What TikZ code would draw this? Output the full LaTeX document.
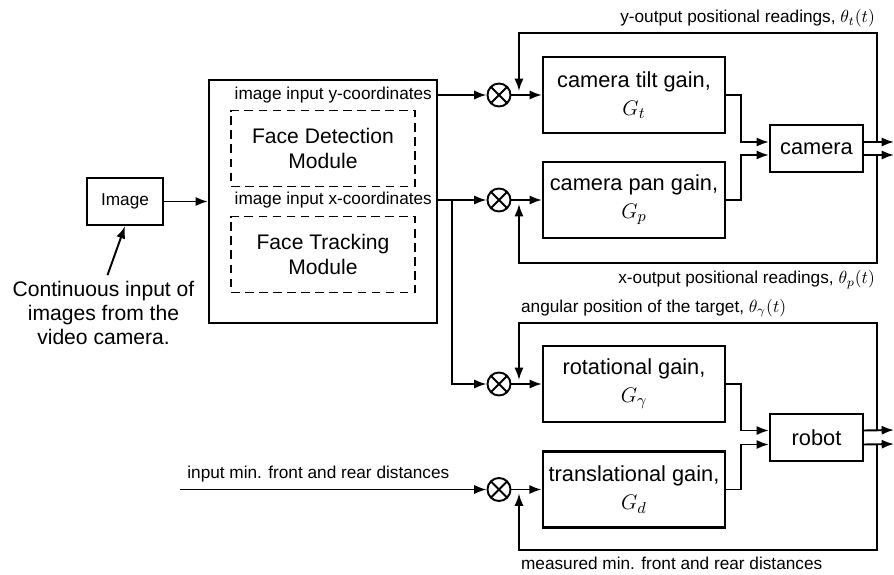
\documentclass[tikz,border=0pt]{standalone}
\usepackage{fontspec}
\setmainfont{Liberation Sans}
\usetikzlibrary{arrows.meta,positioning}

\begin{document}
\begin{tikzpicture}[x=0.02cm,y=-0.02cm,
  blk/.style={rectangle,draw,line width=1.3pt,minimum width=3.64cm,minimum height=1.52cm,
              font=\fontsize{12.4}{16}\selectfont,align=center},
  smallblk/.style={rectangle,draw,line width=1.3pt,minimum width=1.86cm,minimum height=0.94cm,
              font=\fontsize{12.4}{15}\selectfont},
  dashblk/.style={rectangle,draw,dash pattern=on 5pt off 3pt,line width=1.1pt,
              minimum width=3.68cm,minimum height=1.52cm,font=\fontsize{12}{14}\selectfont,align=center},
  sumnode/.style={circle,draw,line width=1.1pt,minimum size=0.46cm,inner sep=0pt,
              path picture={\draw[line width=1.1pt]
                (path picture bounding box.north west) -- (path picture bounding box.south east)
                (path picture bounding box.north east) -- (path picture bounding box.south west);}},
  lbl/.style={font=\fontsize{9.8}{11}\selectfont,inner sep=1pt},
  arr/.style={-{Latex[length=7pt,width=5.2pt]},line width=1.1pt}
]
  \useasboundingbox (0,0) rectangle (894,575);

  % image source and the face module
  \node[smallblk,minimum width=1.52cm,font=\fontsize{9.8}{11}\selectfont] (img) at (125,201.5) {Image};
  \node[rectangle,draw,line width=1.3pt,minimum width=4.56cm,minimum height=4.86cm] (proc) at (323,201.5) {};
  \node[lbl,anchor=east] (ycoord) at (434,95) {image input y-coordinates};
  \node[dashblk] (detect) at (323,148.5) {Face Detection\\Module};
  \node[lbl,anchor=east] (xcoord) at (434,200) {image input x-coordinates};
  \node[dashblk] (track) at (323,254.5) {Face Tracking\\Module};
  \node[font=\fontsize{12}{13.6}\selectfont,align=center] (cap) at (103.5,313)
    {Continuous input of\\images from the\\video camera.};

  % camera loop
  \node[sumnode] (sumt) at (499,95) {};
  \node[blk] (tilt) at (634,95) {camera tilt gain,\\$G_t$};
  \node[sumnode] (sump) at (499,200) {};
  \node[blk] (pan) at (634,200) {camera pan gain,\\$G_p$};
  \node[smallblk] (cam) at (816.5,148.5) {camera};

  % robot loop
  \node[sumnode] (sumr) at (499,384) {};
  \node[blk] (rot) at (634,384) {rotational gain,\\$G_\gamma$};
  \node[sumnode] (sumd) at (499,489.5) {};
  \node[blk] (trans) at (634,489.5) {translational gain,\\$G_d$};
  \node[smallblk] (robot) at (816.5,437.5) {robot};

  \coordinate (xbr) at (452,200);
  \coordinate (dmin) at (180,489.5);
  \coordinate (camy) at (894,142);
  \coordinate (camx) at (894,155);
  \coordinate (camyj) at (877,142);
  \coordinate (camxj) at (877,155);
  \coordinate (ytop) at (877,33);
  \coordinate (xbot) at (877,263);
  \coordinate (roba) at (894,430);
  \coordinate (robd) at (894,444);
  \coordinate (robaj) at (877,430);
  \coordinate (robdj) at (877,444);
  \coordinate (rtop) at (877,323);
  \coordinate (dbot) at (877,550);

  \node[lbl,anchor=south east,yshift=2pt] (ylbl) at (ytop) {y-output positional readings, $\theta_t(t)$};
  \node[lbl,anchor=north east,yshift=-3pt] (xlbl) at (xbot) {x-output positional readings, $\theta_p(t)$};
  \node[lbl,anchor=south west,yshift=2pt] (albl) at ([xshift=0.4cm]sumr.center |- rtop) {angular position of the target, $\theta_\gamma(t)$};
  \node[lbl,anchor=north west,yshift=-3pt] (mlbl) at ([xshift=0.4cm]sumd.center |- dbot) {measured min. front and rear distances};
  \node[lbl,anchor=south west,yshift=3pt,xshift=3pt] (ilbl) at (dmin) {input min. front and rear distances};

  % forward paths
  \draw[arr] ([xshift=0.08cm]cap.north) -- (img.south);
  \draw[arr] (img) -- (proc.west |- img);
  \draw[arr] (proc.east |- sumt) -- (sumt);
  \draw[arr] (proc.east |- sump) -- (sump);
  \draw[arr] (xbr) |- (sumr);
  \draw[arr] (dmin) -- (sumd);
  \draw[arr] (sumt) -- (tilt);
  \draw[arr] (sump) -- (pan);
  \draw[arr] (sumr) -- (rot);
  \draw[arr] (sumd) -- (trans);
  \draw[arr] (tilt.east) -- ++(15,0) |- ([yshift=0.13cm]cam.west);
  \draw[arr] (pan.east) -- ++(15,0) |- ([yshift=-0.13cm]cam.west);
  \draw[arr] (rot.east) -- ++(15,0) |- ([yshift=0.14cm]robot.west);
  \draw[arr] (trans.east) -- ++(15,0) |- ([yshift=-0.14cm]robot.west);
  \draw[arr] ([yshift=0.13cm]cam.east) -- (camy);
  \draw[arr] ([yshift=-0.13cm]cam.east) -- (camx);
  \draw[arr] ([yshift=0.14cm]robot.east) -- (roba);
  \draw[arr] ([yshift=-0.14cm]robot.east) -- (robd);

  % feedback paths
  \draw[arr] (camyj) -- (ytop) -| ([xshift=0.4cm,yshift=0.08cm]sumt.center);
  \draw[arr] (camxj) -- (xbot) -| ([xshift=0.4cm,yshift=-0.08cm]sump.center);
  \draw[arr] (robaj) -- (rtop) -| ([xshift=0.4cm,yshift=0.08cm]sumr.center);
  \draw[arr] (robdj) -- (dbot) -| ([xshift=0.4cm,yshift=-0.08cm]sumd.center);
\end{tikzpicture}
\end{document}
